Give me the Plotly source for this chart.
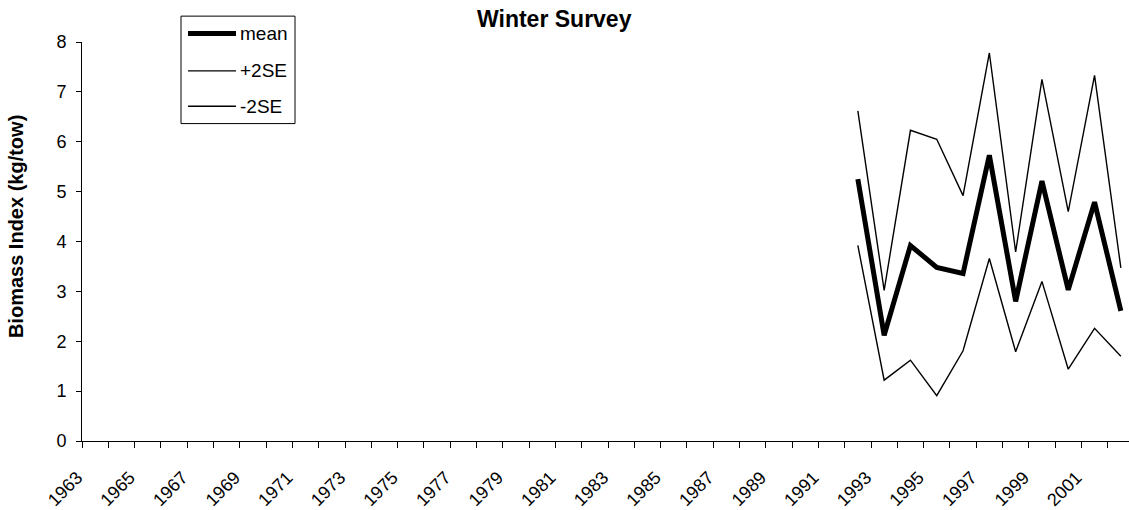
import plotly.graph_objects as go

# Survey years and biomass index (kg/tow)
years = list(range(1992, 2003))
mean_vals = [5.25, 2.12, 3.92, 3.48, 3.36, 5.73, 2.80, 5.21, 3.03, 4.79, 2.61]
upper_vals = [6.62, 3.02, 6.23, 6.05, 4.92, 7.78, 3.79, 7.25, 4.60, 7.33, 3.47]
lower_vals = [3.92, 1.22, 1.62, 0.91, 1.81, 3.66, 1.79, 3.20, 1.44, 2.26, 1.70]

# Category axis labels (every other year)
tick_years = list(range(1963, 2002, 2))
tick_text = [str(y) for y in tick_years]

W, H = 1129, 510
L, R, T, B = 82, 0, 42, 67
PW, PH = W - L - R, H - T - B
FONT = "Liberation Sans, Arial, sans-serif"


def px_x(px):
    return (px - L) / PW


def px_y(py):
    return (H - B - py) / PH


fig = go.Figure()
fig.add_trace(go.Scatter(x=years, y=upper_vals, mode="lines", name="+2SE",
                         line=dict(color="black", width=1.4), showlegend=False))
fig.add_trace(go.Scatter(x=years, y=lower_vals, mode="lines", name="-2SE",
                         line=dict(color="black", width=1.4), showlegend=False))
fig.add_trace(go.Scatter(x=years, y=mean_vals, mode="lines", name="mean",
                         line=dict(color="black", width=5), showlegend=False))

# hand-drawn legend box
shapes = [dict(type="rect", xref="paper", yref="paper",
               x0=px_x(181), x1=px_x(295), y0=px_y(124), y1=px_y(16),
               line=dict(color="black", width=1), fillcolor="white", layer="above")]
annotations = []
legend_items = [("mean", 5, 33.5), ("+2SE", 1.4, 71), ("-2SE", 1.4, 106.5)]
for label, lw, py in legend_items:
    shapes.append(dict(type="line", xref="paper", yref="paper",
                       x0=px_x(188), x1=px_x(236), y0=px_y(py), y1=px_y(py),
                       line=dict(color="black", width=lw), layer="above"))
    annotations.append(dict(text=label, xref="paper", yref="paper",
                            x=px_x(238), y=px_y(py), xanchor="left", yanchor="middle",
                            showarrow=False, font=dict(family=FONT, size=19, color="black")))

annotations.append(dict(text="<b>Winter Survey</b>", xref="paper", yref="paper",
                        x=px_x(554), y=px_y(19), xanchor="center", yanchor="middle",
                        showarrow=False, font=dict(family=FONT, size=23, color="black")))
annotations.append(dict(text="<b>Biomass Index (kg/tow)</b>", xref="paper", yref="paper",
                        x=px_x(16), y=px_y(228), xanchor="center", yanchor="middle",
                        textangle=-90, showarrow=False,
                        font=dict(family=FONT, size=20, color="black")))

fig.update_layout(
    width=W, height=H,
    margin=dict(l=L, r=R, t=T, b=B),
    paper_bgcolor="white", plot_bgcolor="white",
    font=dict(family=FONT, size=18, color="black"),
    shapes=shapes, annotations=annotations,
    showlegend=False,
    xaxis=dict(
        range=[1962.5, 1962.5 + PW / 26.3],
        tickmode="array", tickvals=tick_years, ticktext=tick_text,
        tickangle=-45, ticks="outside", ticklen=0,
        ticklabelstandoff=18, ticklabelshift=-18,
        minor=dict(ticks="outside", ticklen=6, tickcolor="black",
                   tick0=1962.5, dtick=1, showgrid=False),
        showline=True, linecolor="black", linewidth=1,
        showgrid=False, zeroline=False,
        tickfont=dict(family=FONT, size=18, color="black"),
    ),
    yaxis=dict(
        range=[0, 8], tickmode="linear", tick0=0, dtick=1,
        ticks="outside", ticklen=5, tickcolor="black",
        showline=True, linecolor="black", linewidth=1,
        showgrid=False, zeroline=False,
        ticklabelstandoff=6,
        tickfont=dict(family=FONT, size=18, color="black"),
    ),
)

fig.write_html("out.html")
